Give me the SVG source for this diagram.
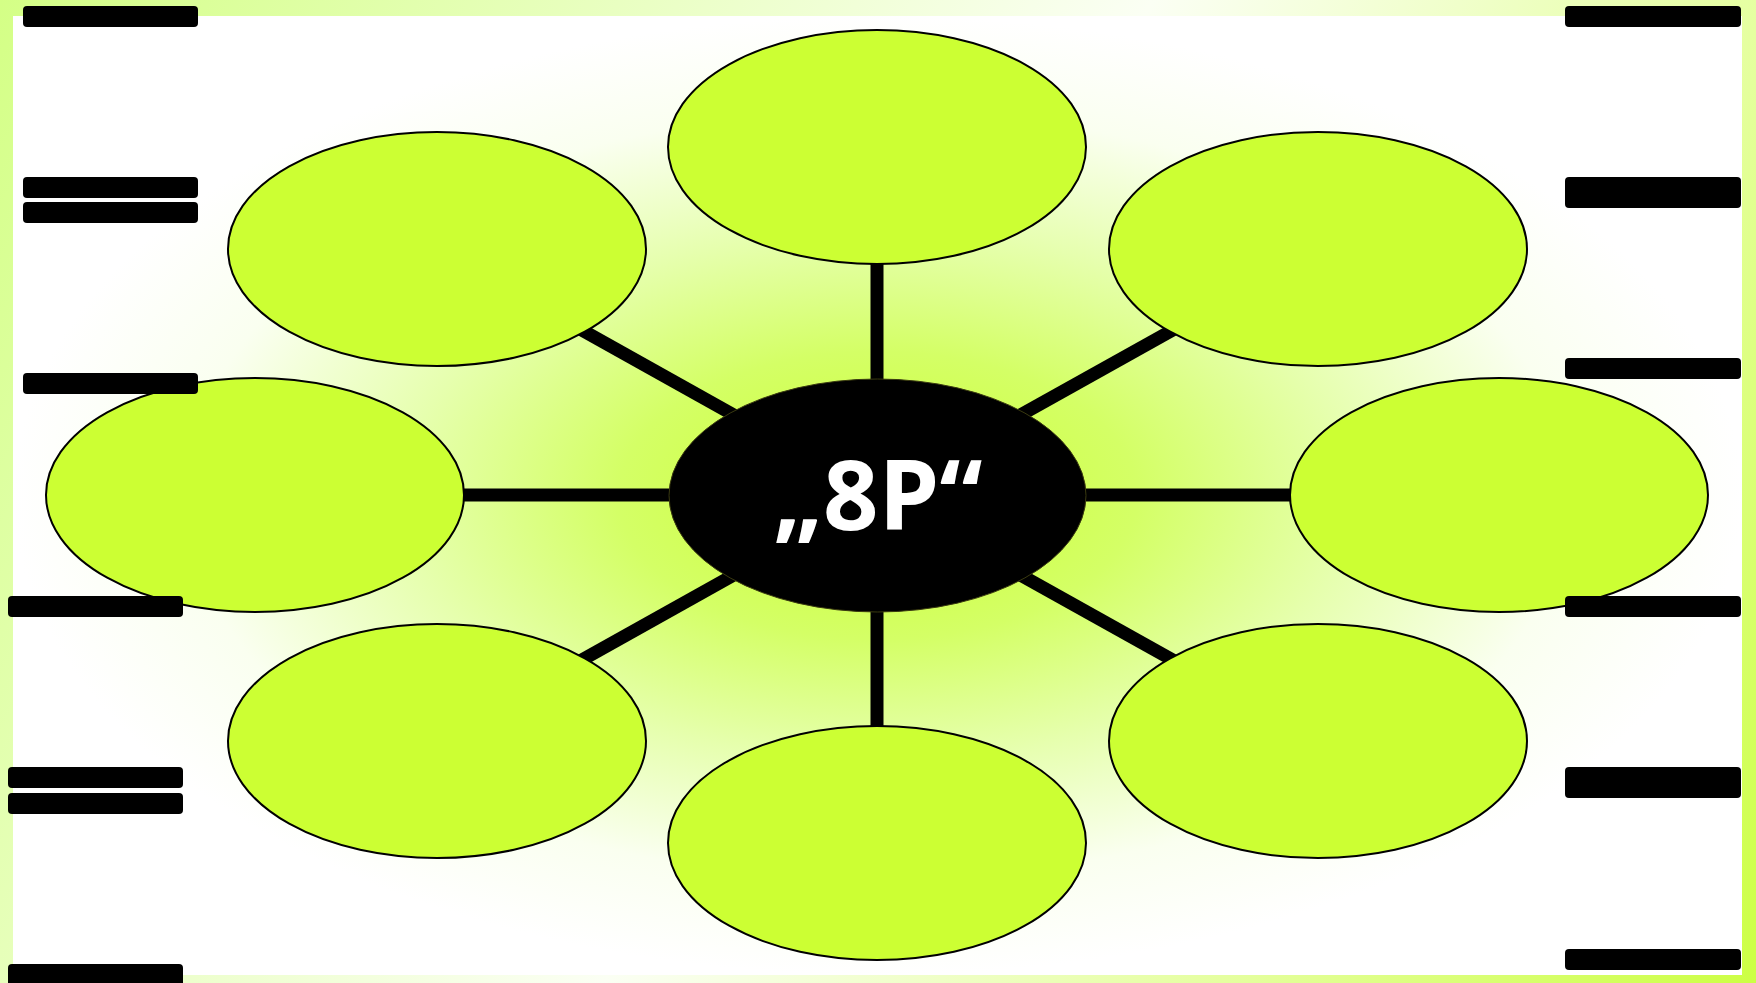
<svg xmlns="http://www.w3.org/2000/svg" width="1756" height="983" viewBox="0 0 1756 983">
  <defs>
    <linearGradient id="frameGrad" x1="0" y1="0" x2="1756" y2="983" gradientUnits="userSpaceOnUse">
      <stop offset="0" stop-color="#d4ff86"/>
      <stop offset="0.5" stop-color="#fbfff4"/>
      <stop offset="0.78" stop-color="#e4ff9c"/>
      <stop offset="1" stop-color="#ccff44"/>
    </linearGradient>
    <radialGradient id="glow" cx="0.5" cy="0.5" r="0.5" gradientUnits="objectBoundingBox">
      <stop offset="0" stop-color="#ccff33"/>
      <stop offset="0.3" stop-color="#d4ff66"/>
      <stop offset="0.55" stop-color="#e6ffae"/>
      <stop offset="0.8" stop-color="#fafff0"/>
      <stop offset="1" stop-color="#ffffff"/>
    </radialGradient>
  </defs>
  <style>
    .petal { fill: #ccff33; stroke: #000000; stroke-width: 2; }
    .hub { fill: #000000; stroke: #3a3a10; stroke-width: 1; }
    .spoke { stroke: #000000; stroke-width: 13; }
    .bar { fill: #000000; }
    .title { font-family: "Open Sans", Lato, "DejaVu Sans", sans-serif; font-weight: bold; font-size: 97px; fill: #ffffff; }
  </style>

  <!-- background frame and inner panel -->
  <rect x="0" y="0" width="1756" height="983" fill="url(#frameGrad)"/>
  <rect x="13" y="16" width="1729" height="959" fill="url(#glow)"/>

  <!-- connectors from the hub to each petal -->
  <g id="connectors">
    <line class="spoke" x1="877" y1="495" x2="877" y2="148"/>
    <line class="spoke" x1="877" y1="495" x2="877" y2="842"/>
    <line class="spoke" x1="877" y1="495" x2="254" y2="495"/>
    <line class="spoke" x1="877" y1="495" x2="1500" y2="495"/>
    <line class="spoke" x1="877" y1="495" x2="437" y2="249"/>
    <line class="spoke" x1="877" y1="495" x2="1318" y2="249"/>
    <line class="spoke" x1="877" y1="495" x2="437" y2="741"/>
    <line class="spoke" x1="877" y1="495" x2="1318" y2="741"/>
  </g>

  <g id="petal-top"><ellipse class="petal" cx="877" cy="147" rx="209" ry="117"/></g>
  <g id="petal-upper-left"><ellipse class="petal" cx="437" cy="249" rx="209" ry="117"/></g>
  <g id="petal-upper-right"><ellipse class="petal" cx="1318" cy="249" rx="209" ry="117"/></g>
  <g id="petal-left"><ellipse class="petal" cx="255" cy="495" rx="209" ry="117"/></g>
  <g id="petal-right"><ellipse class="petal" cx="1499" cy="495" rx="209" ry="117"/></g>
  <g id="petal-lower-left"><ellipse class="petal" cx="437" cy="741" rx="209" ry="117"/></g>
  <g id="petal-lower-right"><ellipse class="petal" cx="1318" cy="741" rx="209" ry="117"/></g>
  <g id="petal-bottom"><ellipse class="petal" cx="877" cy="843" rx="209" ry="117"/></g>

  <g id="hub">
    <ellipse class="hub" cx="877.5" cy="495.5" rx="208.5" ry="116.5"/>
    <text class="title" x="878" y="530" text-anchor="middle">„8P“</text>
  </g>

  <!-- label bars, left column -->
  <g id="bars-left">
    <rect class="bar" x="23" y="6" width="175" height="21" rx="4"/>
    <rect class="bar" x="23" y="177" width="175" height="21" rx="4"/>
    <rect class="bar" x="23" y="202" width="175" height="21" rx="4"/>
    <rect class="bar" x="23" y="373" width="175" height="21" rx="4"/>
    <rect class="bar" x="8" y="596" width="175" height="21" rx="4"/>
    <rect class="bar" x="8" y="767" width="175" height="21" rx="4"/>
    <rect class="bar" x="8" y="793" width="175" height="21" rx="4"/>
    <rect class="bar" x="8" y="964" width="175" height="24" rx="4"/>
  </g>

  <!-- label bars, right column -->
  <g id="bars-right">
    <rect class="bar" x="1565" y="6" width="176" height="21" rx="4"/>
    <rect class="bar" x="1565" y="177" width="176" height="31" rx="4"/>
    <rect class="bar" x="1565" y="358" width="176" height="21" rx="4"/>
    <rect class="bar" x="1565" y="596" width="176" height="21" rx="4"/>
    <rect class="bar" x="1565" y="767" width="176" height="31" rx="4"/>
    <rect class="bar" x="1565" y="949" width="176" height="21" rx="4"/>
  </g>
</svg>
